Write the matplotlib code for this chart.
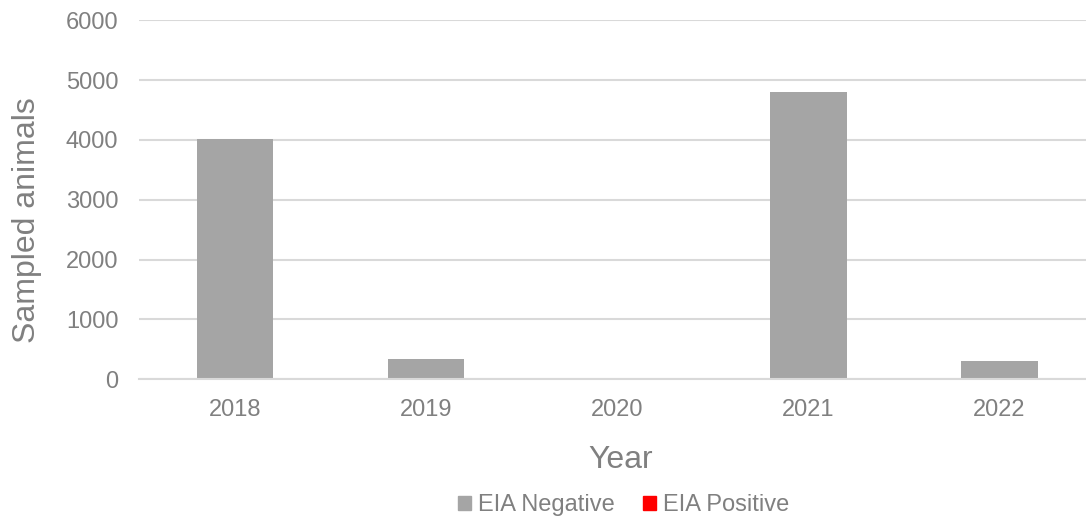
import numpy as np
import matplotlib
matplotlib.use("Agg")
import matplotlib.pyplot as plt
from matplotlib.patches import Patch

plt.rcParams["font.family"] = ["Liberation Sans", "DejaVu Sans"]

years = ["2018", "2019", "2020", "2021", "2022"]
eia_negative = [4010, 335, 0, 4800, 300]
eia_positive = [0, 0, 0, 0, 0]
y_ticks = [0, 1000, 2000, 3000, 4000, 5000, 6000]

TEXT = "#808080"
GRID = "#d9d9d9"
NEG = "#a5a5a5"
POS = "#ff0000"

fig = plt.figure(figsize=(10.86, 5.18), dpi=100)
ax = fig.add_axes([139.3 / 1086, 138.7 / 518, 955.7 / 1086, 359 / 518])

x = np.arange(len(years))
ax.bar(x, eia_negative, width=0.40, color=NEG, zorder=3)
ax.bar(x, eia_positive, width=0.40, bottom=eia_negative, color=POS, zorder=3)

ax.set_xlim(-0.5, len(years) - 0.5)
ax.set_ylim(0, 6000)
ax.set_yticks(y_ticks)
ax.set_xticks(x)
ax.set_xticklabels(years)
ax.grid(axis="y", color=GRID, linewidth=1.5, zorder=0)
ax.set_axisbelow(True)

for side in ["top", "right", "left"]:
    ax.spines[side].set_visible(False)
ax.spines["bottom"].set_color(GRID)
ax.spines["bottom"].set_linewidth(1.5)
ax.spines["bottom"].set_zorder(4)

ax.tick_params(axis="both", length=0, labelsize=17, labelcolor=TEXT)
ax.tick_params(axis="y", pad=15)
ax.tick_params(axis="x", pad=14)

fig.text(27 / 1086, 1 - 220 / 518, "Sampled animals", rotation=90,
         ha="center", va="center", fontsize=23, color=TEXT)
fig.text(621 / 1086, 1 - 460 / 518, "Year", ha="center", va="center",
         fontsize=23, color=TEXT)

handles = [Patch(color=NEG, label="EIA Negative"),
           Patch(color=POS, label="EIA Positive")]
fig.legend(handles=handles, loc="center", bbox_to_anchor=(624 / 1086, 1 - 505 / 518),
           ncol=2, frameon=False, fontsize=17, labelcolor=TEXT,
           handlelength=0.55, handleheight=0.55, handletextpad=0.3,
           columnspacing=1.2)

fig.savefig("out.png", dpi=100)
